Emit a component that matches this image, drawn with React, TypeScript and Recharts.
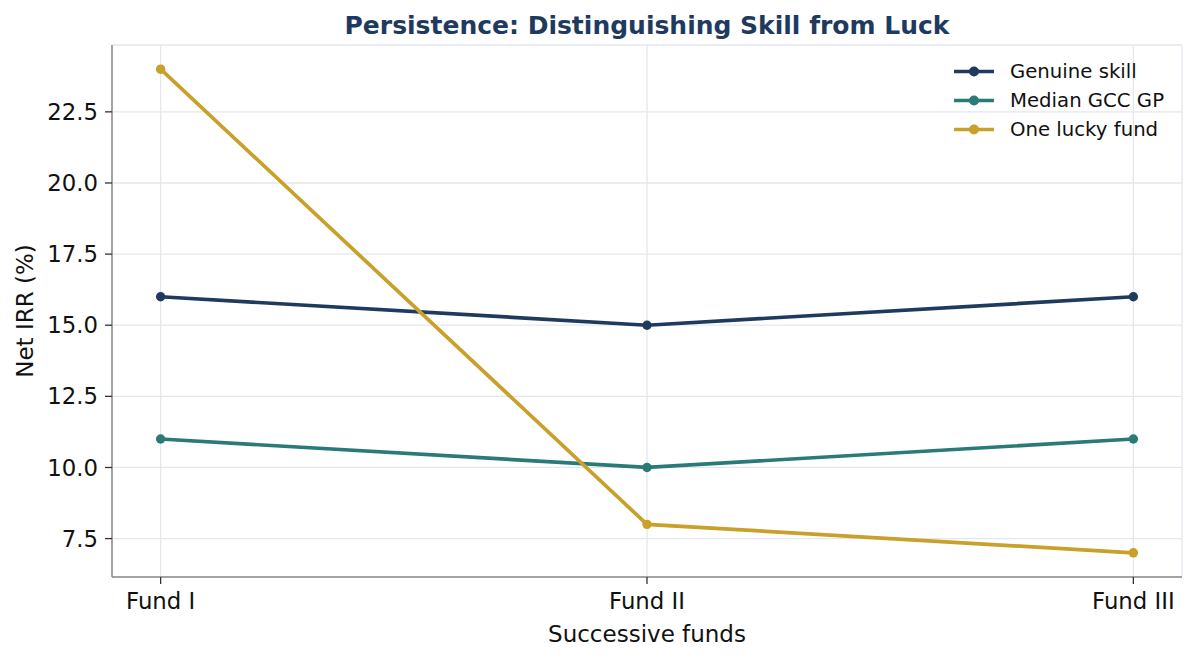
import React from "react";
import { LineChart, Line, XAxis, YAxis, CartesianGrid } from "recharts";

const funds = ["Fund I", "Fund II", "Fund III"];
const genuineSkill = [16, 15, 16];
const medianGccGp = [11, 10, 11];
const oneLuckyFund = [24, 8, 7];
const yTicks = [7.5, 10, 12.5, 15, 17.5, 20, 22.5];

const series = [
  { key: "genuine", name: "Genuine skill", color: "#1f3a5f" },
  { key: "median", name: "Median GCC GP", color: "#2a7a78" },
  { key: "lucky", name: "One lucky fund", color: "#c9a02a" },
];

const data = funds.map((f, i) => ({
  x: i,
  genuine: genuineSkill[i],
  median: medianGccGp[i],
  lucky: oneLuckyFund[i],
}));

const FONT = "'DejaVu Sans', sans-serif";

// legend drawn as an overlay so it doesn't eat into the plot area
function LegendBox() {
  return (
    <div
      style={{
        position: "absolute",
        left: 950,
        top: 57,
        fontFamily: FONT,
        fontSize: 19.7,
        color: "#111",
      }}
    >
      {series.map((s) => (
        <div
          key={s.key}
          style={{ display: "flex", alignItems: "center", height: 29 }}
        >
          <svg width={60} height={29}>
            <line x1={4} x2={44} y1={14.5} y2={14.5} stroke={s.color} strokeWidth={3.7} />
            <circle cx={24} cy={14.5} r={5} fill={s.color} />
          </svg>
          <span>{s.name}</span>
        </div>
      ))}
    </div>
  );
}

export default function App() {
  return (
    <div
      style={{
        position: "absolute",
        left: 0,
        top: 0,
        width: 1196,
        height: 661,
        background: "#fff",
        fontFamily: FONT,
      }}
    >
      <div
        style={{
          position: "absolute",
          left: 112,
          width: 1070,
          top: 10,
          textAlign: "center",
          fontSize: 25,
          fontWeight: "bold",
          color: "#1f3a5f",
          lineHeight: "32px",
        }}
      >
        Persistence: Distinguishing Skill from Luck
      </div>
      <LineChart
        width={1196}
        height={661}
        data={data}
        margin={{ top: 45, right: 14, left: 0, bottom: 0 }}
      >
        <CartesianGrid stroke="#e4e7ee" strokeWidth={1.3} />
        <XAxis
          dataKey="x"
          type="number"
          domain={[-0.1, 2.1]}
          ticks={[0, 1, 2]}
          allowDataOverflow
          tickFormatter={(v) => funds[v] ?? ""}
          height={84}
          axisLine={{ stroke: "#8a8a8a", strokeWidth: 1.5 }}
          tickLine={{ stroke: "#333", strokeWidth: 1.3 }}
          tickSize={7}
          tickMargin={9}
          tick={{ fontSize: 22.8, fill: "#111", fontFamily: FONT }}
          label={{
            value: "Successive funds",
            position: "insideBottom",
            offset: 19,
            style: { fontSize: 23, fill: "#111", fontFamily: FONT },
          }}
        />
        <YAxis
          type="number"
          domain={[6.15, 24.85]}
          ticks={yTicks}
          allowDataOverflow
          tickFormatter={(v) => v.toFixed(1)}
          width={112}
          axisLine={{ stroke: "#8a8a8a", strokeWidth: 1.5 }}
          tickLine={{ stroke: "#333", strokeWidth: 1.3 }}
          tickSize={7}
          tickMargin={7}
          tick={{ fontSize: 22.8, fill: "#111", fontFamily: FONT }}
          label={{
            value: "Net IRR (%)",
            angle: -90,
            position: "insideLeft",
            offset: 25,
            style: { fontSize: 23, fill: "#111", fontFamily: FONT, textAnchor: "middle" },
          }}
        />
        {series.map((s) => (
          <Line
            key={s.key}
            dataKey={s.key}
            name={s.name}
            type="linear"
            stroke={s.color}
            strokeWidth={3.7}
            dot={{ r: 4.7, fill: s.color, stroke: s.color, strokeWidth: 0 }}
            isAnimationActive={false}
          />
        ))}
      </LineChart>
      <LegendBox />
    </div>
  );
}
